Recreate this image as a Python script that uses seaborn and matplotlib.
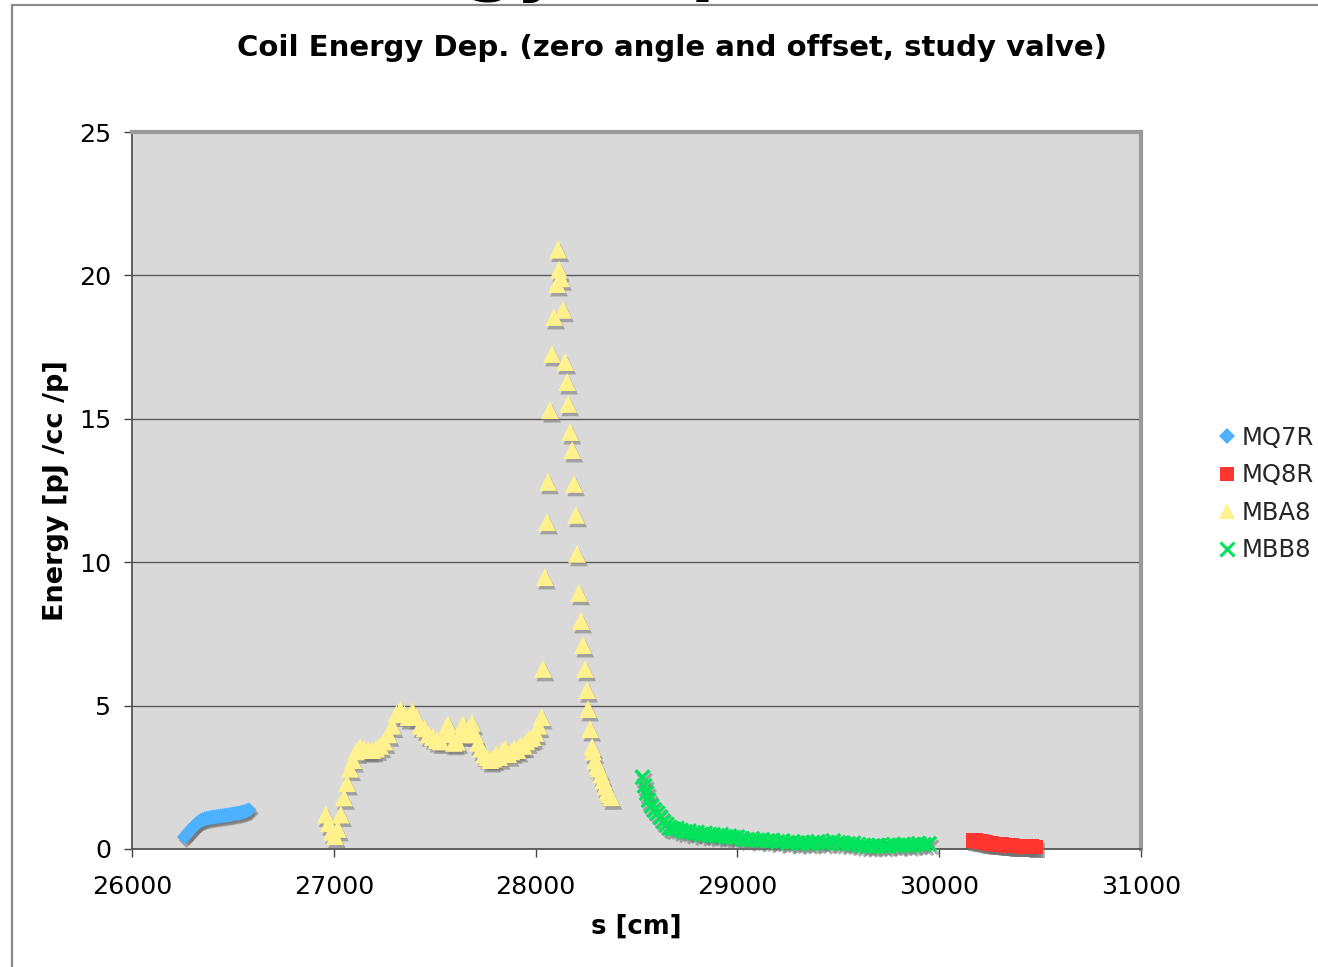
import numpy as np
import pandas as pd
import matplotlib
matplotlib.use("Agg")
import matplotlib.pyplot as plt
import matplotlib.patheffects as pe
from matplotlib.lines import Line2D
import seaborn as sns

# ---------------- data ----------------
mq7r_s = [26260, 26270, 26280, 26290, 26300, 26310, 26320, 26330, 26340, 26350, 26360,
          26370, 26380, 26390, 26400, 26410, 26420, 26430, 26440, 26450, 26460, 26470,
          26480, 26490, 26500, 26510, 26520, 26530, 26540, 26550, 26560, 26570, 26580]
mq7r_e = [0.42, 0.50, 0.58, 0.66, 0.74, 0.82, 0.88, 0.94, 0.99, 1.02, 1.05,
          1.07, 1.08, 1.10, 1.11, 1.12, 1.13, 1.14, 1.15, 1.16, 1.17, 1.18,
          1.19, 1.20, 1.22, 1.23, 1.24, 1.25, 1.27, 1.29, 1.31, 1.34, 1.36]

mq8r_s = [30170, 30180, 30190, 30200, 30210, 30220, 30230, 30240, 30250, 30260, 30270,
          30280, 30290, 30300, 30310, 30320, 30330, 30340, 30350, 30360, 30370, 30380,
          30390, 30400, 30410, 30420, 30430, 30440, 30450, 30460, 30470, 30480]
mq8r_e = [0.30, 0.29, 0.28, 0.27, 0.26, 0.25, 0.23, 0.21, 0.20, 0.19, 0.18,
          0.17, 0.16, 0.15, 0.15, 0.14, 0.13, 0.13, 0.12, 0.12, 0.11, 0.11,
          0.10, 0.10, 0.09, 0.09, 0.09, 0.08, 0.08, 0.08, 0.07, 0.07]

mba8_s = [26960, 26975, 26990, 27005, 27020, 27035, 27050, 27065, 27080, 27095, 27110,
          27130, 27150, 27170, 27190, 27210, 27230, 27250, 27270, 27290, 27310, 27330,
          27350, 27370, 27390, 27410, 27430, 27450, 27470, 27490, 27510, 27530, 27550,
          27565, 27580, 27595, 27610, 27625, 27640, 27655, 27670, 27685, 27700, 27715,
          27730, 27745, 27760, 27775, 27790, 27805, 27820, 27835, 27850, 27865, 27880,
          27895, 27910, 27925, 27940, 27955, 27970, 27985, 28000, 28015, 28030,
          28037, 28046, 28056, 28061, 28071, 28081, 28091, 28106, 28111, 28116, 28126,
          28136, 28146, 28156, 28161, 28171, 28181, 28190, 28200, 28205, 28215, 28225,
          28235, 28245, 28255, 28260, 28270, 28280, 28285, 28295, 28305, 28315, 28325,
          28335, 28345, 28355, 28365, 28375]
mba8_e = [1.20, 0.90, 0.60, 0.45, 0.70, 1.20, 1.80, 2.30, 2.80, 3.10, 3.40,
          3.55, 3.50, 3.45, 3.45, 3.50, 3.60, 3.75, 4.00, 4.30, 4.70, 4.85,
          4.70, 4.60, 4.80, 4.60, 4.30, 4.20, 4.00, 3.90, 3.80, 3.75, 4.10,
          4.35, 4.00, 3.70, 3.75, 4.00, 4.35, 4.00, 4.20, 4.40, 4.00, 3.70,
          3.50, 3.30, 3.20, 3.10, 3.15, 3.30, 3.20, 3.40, 3.50, 3.30, 3.40,
          3.50, 3.45, 3.60, 3.60, 3.75, 3.85, 3.90, 4.05, 4.30, 4.60,
          6.28, 9.48, 11.40, 12.80, 15.30, 17.26, 18.55, 19.70, 20.90, 20.20, 19.90,
          18.80, 16.98, 16.28, 15.52, 14.54, 13.91, 12.73, 11.65, 10.29, 8.93, 7.95,
          7.11, 6.28, 5.54, 4.88, 4.18, 3.56, 3.40, 3.10, 2.90, 2.80, 2.60,
          2.40, 2.20, 2.00, 1.90, 1.80]

mbb8_s = [28530, 28540, 28550, 28560, 28575, 28590, 28605, 28620, 28635, 28650, 28665,
          28680, 28700, 28720, 28740, 28760, 28780, 28800, 28820, 28840, 28860, 28880,
          28900, 28920, 28940, 28960, 28980, 29000, 29025, 29050, 29075, 29100, 29125,
          29150, 29175, 29200, 29225, 29250, 29275, 29300, 29325, 29350, 29375, 29400,
          29425, 29450, 29475, 29500, 29525, 29550, 29575, 29600, 29625, 29650, 29675,
          29700, 29725, 29750, 29775, 29800, 29825, 29850, 29875, 29900, 29925, 29950]
mbb8_e = [2.50, 2.20, 1.95, 1.70, 1.50, 1.35, 1.25, 1.10, 0.95, 0.85, 0.75,
          0.70, 0.72, 0.65, 0.60, 0.62, 0.55, 0.58, 0.50, 0.55, 0.48, 0.50,
          0.45, 0.50, 0.42, 0.45, 0.40, 0.42, 0.35, 0.32, 0.35, 0.30, 0.32,
          0.28, 0.30, 0.25, 0.28, 0.22, 0.25, 0.20, 0.22, 0.20, 0.22, 0.25,
          0.20, 0.22, 0.28, 0.22, 0.20, 0.18, 0.20, 0.15, 0.12, 0.10, 0.10,
          0.12, 0.10, 0.12, 0.15, 0.12, 0.15, 0.12, 0.15, 0.18, 0.15, 0.18]

series_names = ["MQ7R", "MQ8R", "MBA8", "MBB8"]
x_ticks = [26000, 27000, 28000, 29000, 30000, 31000]
y_ticks = [0, 5, 10, 15, 20, 25]

title = "Coil Energy Dep. (zero angle and offset, study valve)"
x_label = "s [cm]"
y_label = "Energy [pJ /cc /p]"

# ---------------- style ----------------
colors = {"MQ7R": "#4DB1FF", "MQ8R": "#FF3530", "MBA8": "#FFF28E", "MBB8": "#00E35A"}
markers = {"MQ7R": "D", "MQ8R": "s", "MBA8": "^", "MBB8": "x"}
sizes = {"MQ7R": 60, "MQ8R": 110, "MBA8": 165, "MBB8": 100}

sns.set_theme(style="white")
plt.rcParams["font.family"] = ["DejaVu Sans"]

W, H = 1318, 967
fig = plt.figure(figsize=(W / 100, H / 100), dpi=100)
ax = fig.add_axes([132 / W, 1 - 849 / H, (1141 - 132) / W, (849 - 132) / H])
ax.set_facecolor("#D9D9D9")

data = {
    "MQ7R": (mq7r_s, mq7r_e),
    "MQ8R": (mq8r_s, mq8r_e),
    "MBA8": (mba8_s, mba8_e),
    "MBB8": (mbb8_s, mbb8_e),
}

for name in ["MQ7R", "MBA8", "MBB8", "MQ8R"]:
    s, e = data[name]
    df = pd.DataFrame({"s": s, "E": e})
    before = len(ax.collections)
    if markers[name] == "x":
        sns.scatterplot(data=df, x="s", y="E", marker="x", color=colors[name],
                        s=sizes[name], linewidth=2.4, ax=ax, legend=False, zorder=3)
        effects = [pe.SimpleLineShadow(offset=(1.5, -2.5), shadow_color="0.45", alpha=0.55),
                   pe.Normal()]
    else:
        sns.scatterplot(data=df, x="s", y="E", marker=markers[name], color=colors[name],
                        s=sizes[name], linewidth=0, edgecolor="none", ax=ax,
                        legend=False, zorder=3)
        effects = [pe.SimplePatchShadow(offset=(1.5, -2.5), shadow_rgbFace="0.45", alpha=0.55),
                   pe.Normal()]
    for coll in ax.collections[before:]:
        coll.set_path_effects(effects)
        coll.set_clip_on(False)

ax.set_xlim(x_ticks[0], x_ticks[-1])
ax.set_ylim(y_ticks[0], y_ticks[-1])
ax.set_xticks(x_ticks)
ax.set_yticks(y_ticks)
ax.set_xticklabels([str(t) for t in x_ticks])
ax.set_yticklabels([str(t) for t in y_ticks])
ax.tick_params(axis="both", which="major", labelsize=18.3, direction="out",
               length=6, width=1, color="#444444", labelcolor="black")
ax.tick_params(axis="x", pad=13)
ax.tick_params(axis="y", pad=9)
ax.tick_params(bottom=True, left=True)

ax.yaxis.grid(True, color="#5A5A5A", linewidth=1.0)
ax.xaxis.grid(False)
ax.set_axisbelow(True)

for side in ["top", "right"]:
    ax.spines[side].set_color("#9A9A9A")
    ax.spines[side].set_linewidth(3)
for side in ["left", "bottom"]:
    ax.spines[side].set_color("#555555")
    ax.spines[side].set_linewidth(1.3)
    ax.spines[side].set_zorder(2.5)

ax.set_xlabel(x_label, fontsize=18.7, fontweight="bold", color="black")
ax.set_ylabel(y_label, fontsize=19.5, fontweight="bold", color="black")
ax.xaxis.set_label_coords(0.5, (849 - 914) / (849 - 132))
ax.yaxis.set_label_coords((69 - 132) / (1141 - 132), 0.5)

fig.text(672 / W, 1 - 48 / H, title, ha="center", va="center",
         fontsize=21, fontweight="bold", color="black")

# clipped slide title fragment above the chart (only descenders visible)
fig.text(288 / W, 1 + 12 / H, "Energy Dep", ha="left", va="baseline",
         fontsize=50, fontweight="bold", color="black")

# chart-area border
fig.add_artist(Line2D([12 / W, 1.0], [1 - 5 / H, 1 - 5 / H], transform=fig.transFigure,
                      color="#8A8A8A", linewidth=1.6))
fig.add_artist(Line2D([12 / W, 12 / W], [1 - 5 / H, 0.0], transform=fig.transFigure,
                      color="#8A8A8A", linewidth=1.6))

leg_sizes = {"MQ7R": 8, "MQ8R": 10, "MBA8": 12, "MBB8": 10}
handles = [Line2D([], [], linestyle="none", marker=markers[n], color=colors[n],
                  markerfacecolor=colors[n],
                  markeredgecolor=colors[n] if n == "MBB8" else "none",
                  markeredgewidth=2.2 if n == "MBB8" else 0,
                  markersize=leg_sizes[n])
           for n in series_names]
leg = fig.legend(handles, series_names, loc="center left",
                 bbox_to_anchor=(1217 / W, 1 - 494 / H), frameon=False,
                 fontsize=17.5, handlelength=0.8, handletextpad=0.2,
                 labelspacing=0.55, borderpad=0, borderaxespad=0)

fig.savefig("out.png", dpi=100)
